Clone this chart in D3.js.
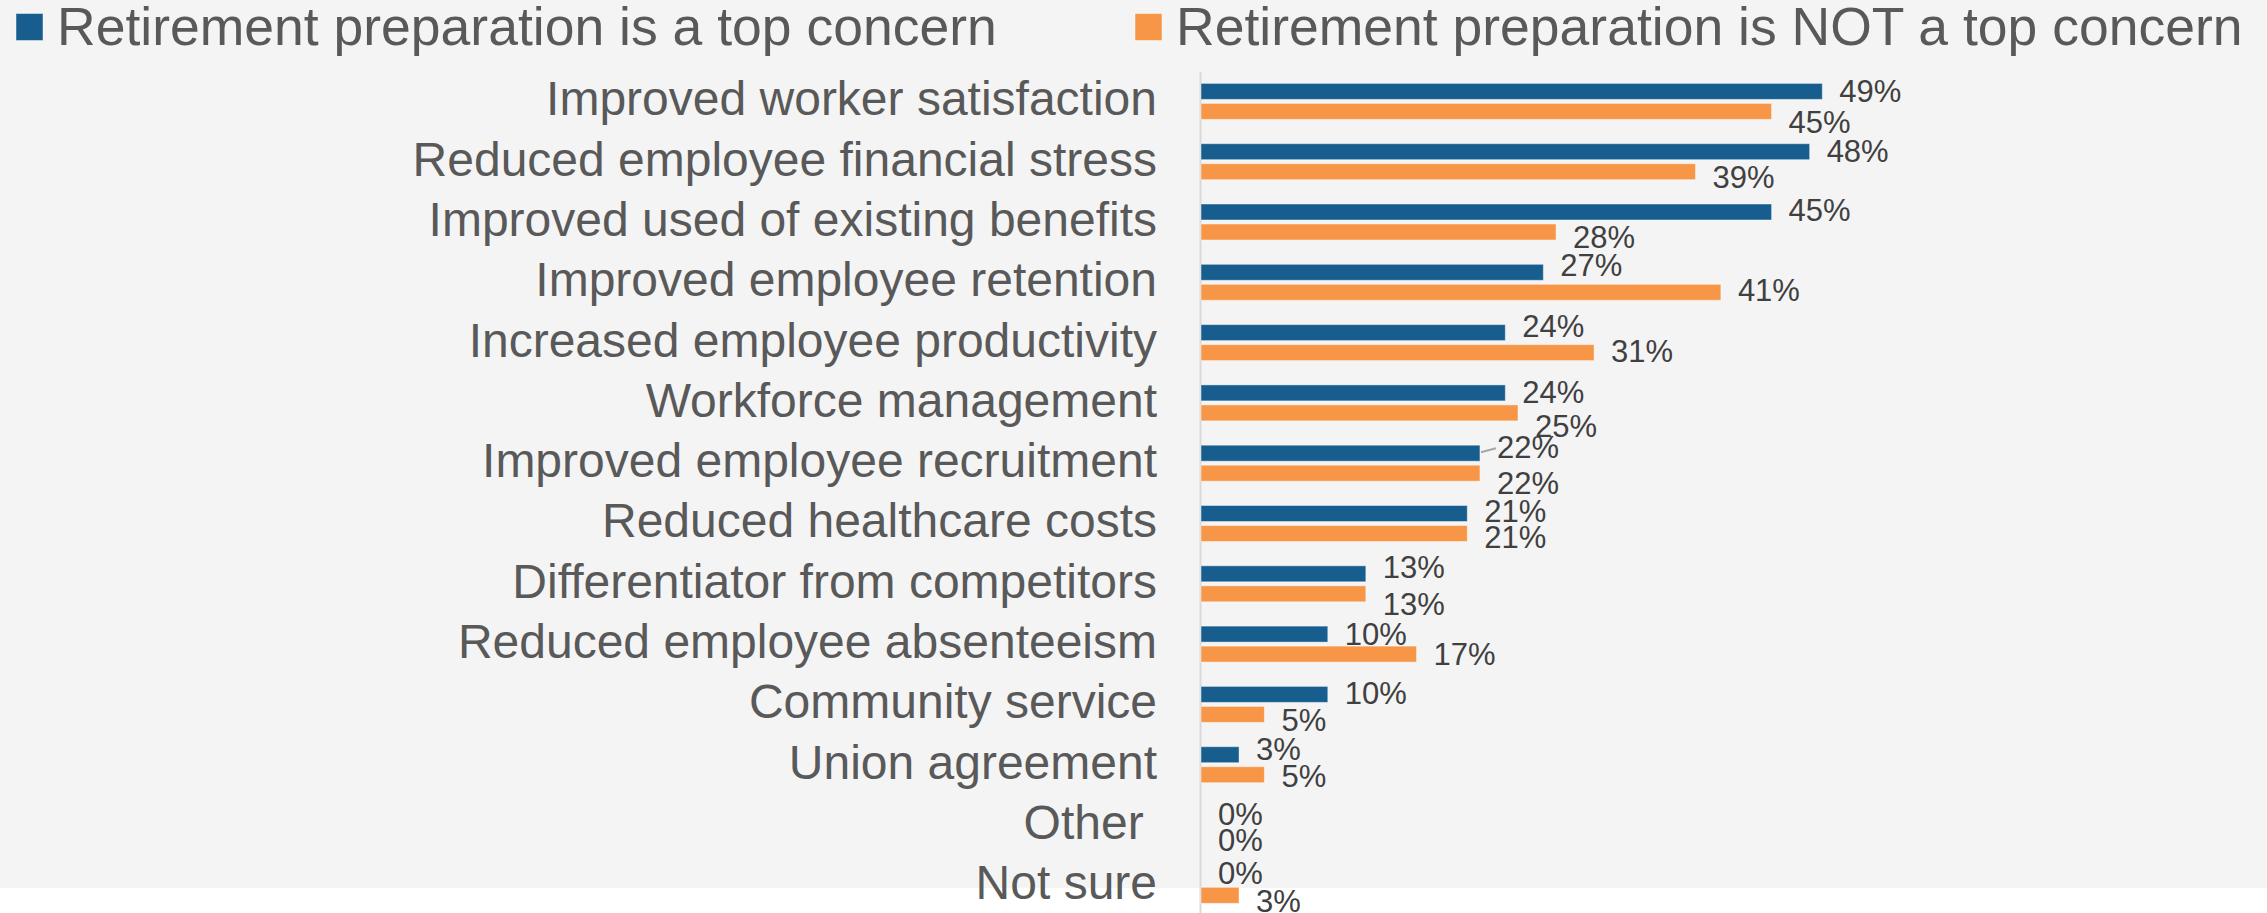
<!DOCTYPE html>
<html>
<head>
<meta charset="utf-8">
<script src="https://cdn.jsdelivr.net/npm/d3@7"></script>
<style>
  html, body { margin: 0; padding: 0; background: #ffffff; }
  svg { display: block; font-family: "Liberation Sans", Arial, sans-serif; }
</style>
</head>
<body>
<svg id="chart" width="2267" height="913"></svg>
<script>
// Benefits employers expect from financial wellness programs, split by whether
// retirement preparation is a top concern.
const categories = [
  "Improved worker satisfaction",
  "Reduced employee financial stress",
  "Improved used of existing benefits",
  "Improved employee retention",
  "Increased employee productivity",
  "Workforce management",
  "Improved employee recruitment",
  "Reduced healthcare costs",
  "Differentiator from competitors",
  "Reduced employee absenteeism",
  "Community service",
  "Union agreement",
  "Other ",
  "Not sure"
];
const seriesNames = [
  "Retirement preparation is a top concern",
  "Retirement preparation is NOT a top concern"
];
const topConcern    = [49, 48, 45, 27, 24, 24, 22, 21, 13, 10, 10, 3, 0, 0];
const notTopConcern = [45, 39, 28, 41, 31, 25, 22, 21, 13, 17, 5, 5, 0, 3];

// Hand-placed vertical nudges (px) for the value labels, as laid out in the deck.
const topLabelNudge    = [0, -1, -2, -7, -6, -1, -6, -2, -7, 0, -1, -6, -1, -2];
const notTopLabelNudge = [11, 5, 5, -2, -1, 13, 10, 4, 10, 0, 6, 1, 5, 6];
// Labels that were pulled away from their bar and carry a leader line.
const leaderLabels = ["Improved employee recruitment"];

const colors = { top: "#175d8e", not: "#f79646" };
const W = 2267, H = 913;

const svg = d3.select("#chart");

// Panel background
svg.append("rect").attr("x", 0).attr("y", 0).attr("width", W).attr("height", 888)
  .attr("fill", "#f4f4f4");

const x = d3.scaleLinear().domain([0, 50]).range([1201, 1835]);
const y = d3.scaleBand().domain(categories).range([71.25, 915.45]);
const sub = d3.scaleBand().domain(["top", "not"]).range([0, y.bandwidth()])
  .paddingInner(0.2).paddingOuter(0.6075);

const rows = categories.map((c, i) => ({
  cat: c,
  values: [
    { key: "top", v: topConcern[i], nudge: topLabelNudge[i] },
    { key: "not", v: notTopConcern[i], nudge: notTopLabelNudge[i] }
  ]
}));

// Category axis
const axis = svg.append("g")
  .attr("transform", `translate(${x(0) - 1},0)`)
  .call(d3.axisLeft(y).tickSize(0).tickPadding(43));
axis.select(".domain").attr("stroke", "#d9d9d9").attr("stroke-width", 2);
axis.selectAll(".tick text")
  .attr("font-size", 48)
  .attr("font-family", "'Liberation Sans', Arial, sans-serif")
  .attr("fill", "#595959")
  .attr("dy", "0.29em")
  .style("white-space", "pre");

// Bars
const groups = svg.append("g").selectAll("g").data(rows).join("g")
  .attr("transform", d => `translate(0,${y(d.cat)})`);

groups.selectAll("rect").data(d => d.values.filter(s => s.v > 0)).join("rect")
  .attr("x", x(0))
  .attr("y", s => sub(s.key))
  .attr("width", s => x(s.v) - x(0))
  .attr("height", sub.bandwidth())
  .attr("fill", s => colors[s.key])
  .attr("stroke", "#ffffff")
  .attr("stroke-opacity", 0.45)
  .attr("stroke-width", 1);

// Value labels
groups.selectAll("text.value").data(d => d.values).join("text")
  .attr("class", "value")
  .attr("x", s => x(s.v) + 17)
  .attr("y", s => sub(s.key) + sub.bandwidth() / 2 + s.nudge)
  .attr("dy", "0.35em")
  .attr("font-size", 31)
  .attr("fill", "#404040")
  .text(s => s.v + "%");

// Leader lines for displaced labels
groups.filter(d => leaderLabels.includes(d.cat)).append("path")
  .attr("d", d => {
    const s = d.values[0];
    const x0 = x(s.v) + 1, y0 = sub("top") + sub.bandwidth() / 2;
    return `M${x0},${y0 - 1}L${x0 + 15},${y0 - 5}`;
  })
  .attr("stroke", "#a6a6a6")
  .attr("stroke-width", 2)
  .attr("fill", "none");

// Legend
const legendItems = [
  { name: seriesNames[0], color: colors.top, x: 16 },
  { name: seriesNames[1], color: colors.not, x: 1135 }
];
const legend = svg.append("g").selectAll("g").data(legendItems).join("g")
  .attr("transform", d => `translate(${d.x},0)`);
legend.append("rect")
  .attr("x", 0).attr("y", 13.5).attr("width", 27).attr("height", 27)
  .attr("fill", d => d.color)
  .attr("stroke", "#ffffff").attr("stroke-opacity", 0.45).attr("stroke-width", 1);
legend.append("text")
  .attr("x", 41).attr("y", 45)
  .attr("font-size", 53.5)
  .attr("fill", "#595959")
  .text(d => d.name);
</script>
</body>
</html>
